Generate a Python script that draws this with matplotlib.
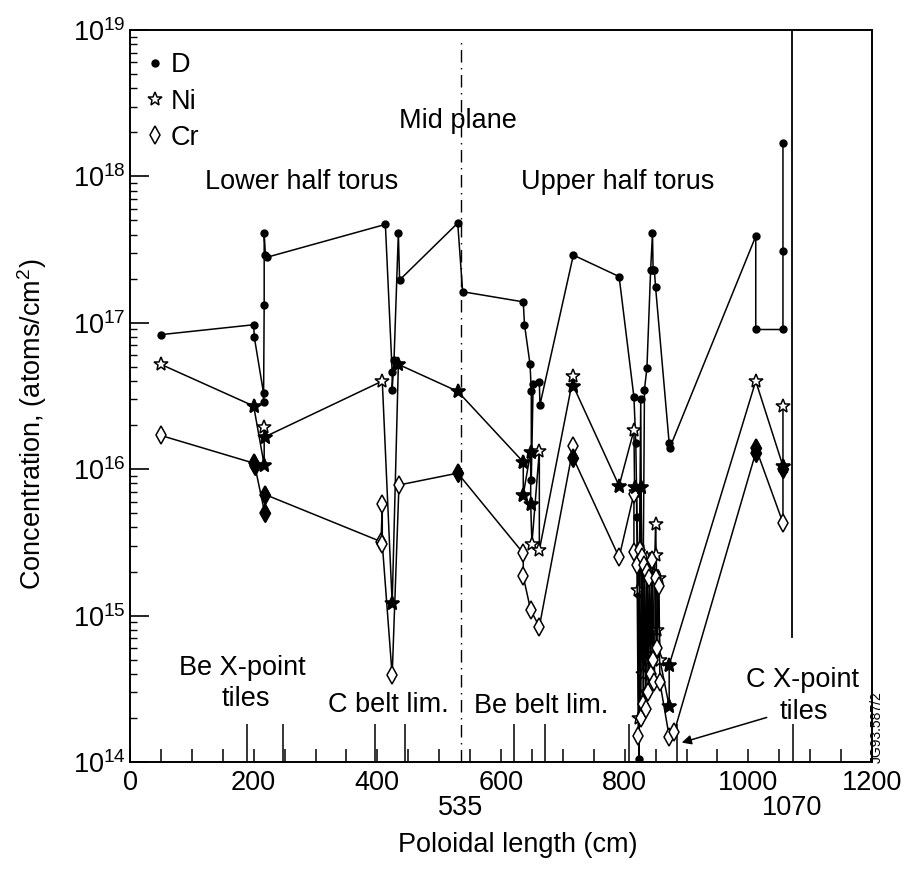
import math
import matplotlib
matplotlib.use('Agg')
import matplotlib.pyplot as plt
from matplotlib.lines import Line2D
from matplotlib.ticker import FixedLocator, LogLocator, NullFormatter, FuncFormatter

plt.rcParams['font.family'] = ['Liberation Sans', 'DejaVu Sans']
plt.rcParams['mathtext.default'] = 'regular'

# ---------------- data ----------------
d_x = [50, 200, 201, 216, 216, 217, 217, 219, 221,
       413, 424, 424, 427, 434, 436,
       530, 538,
       636, 638, 647, 649, 649, 652, 662, 663,
       717, 791,
       815, 818, 820, 822, 823, 824, 826, 828, 830, 832, 836,
       842, 845, 846, 848, 850,
       872, 873,
       1012, 1012, 1056, 1056, 1056]
d_y = [8.3e16, 9.7e16, 8.0e16, 3.3e16, 2.9e16, 1.33e17, 4.1e17, 2.9e17, 2.8e17,
       4.7e17, 4.6e16, 3.5e16, 5.6e16, 4.1e17, 1.96e17,
       4.8e17, 1.63e17,
       1.39e17, 9.7e16, 5.2e16, 3.4e16, 8.5e15, 3.8e16, 3.96e16, 2.75e16,
       2.9e17, 2.07e17,
       3.1e16, 1.5e16, 4.7e15, 1.4e15, 1.05e14, 3.0e15, 3.0e16, 6e14, 2.0e15, 3.5e16, 4.9e16,
       2.3e17, 4.1e17, 2.3e17, 2.3e17, 1.75e17,
       1.5e16, 1.4e16,
       3.9e17, 9.0e16, 9.0e16, 3.1e17, 1.7e18]

ni_x = [50, 200, 217, 217, 219,
        408, 424, 434, 530,
        636, 636, 648, 648, 650, 662, 662,
        717, 717, 791,
        815, 816, 819, 821, 823, 825, 826, 828, 830, 832, 834, 836,
        838, 840, 842, 844, 846, 848, 850, 851, 853, 855, 857,
        872, 872,
        1012, 1056, 1056]
ni_y = [5.2e16, 2.7e16, 1.07e16, 1.95e16, 1.67e16,
        4.0e16, 1.21e15, 5.2e16, 3.4e16,
        1.12e16, 6.7e15, 1.32e16, 5.8e15, 3.1e15, 1.34e16, 2.8e15,
        4.3e16, 3.7e16, 7.7e15,
        1.85e16, 7.6e15, 7.0e15, 1.5e15, 2.0e14, 2.5e15, 7.6e15, 2.4e15, 4e14, 2.2e15, 3.0e14, 2.46e15,
        5e14, 2.0e15, 6e14, 2.0e15, 5e14, 1.8e15, 4.2e15, 2.6e15, 8e14, 1.8e15, 5e14,
        2.4e14, 4.6e14,
        4.0e16, 1.05e16, 2.7e16]
ni_solid = [1, 2, 4, 6, 7, 8, 9, 10, 11, 12, 17, 18, 20, 25, 42, 43, 45]

cr_x = [50, 200, 202, 218, 219,
        406, 408, 408, 424, 435, 530,
        636, 636, 648, 662,
        717, 717, 791,
        815, 815, 820, 822, 824, 826, 828, 830, 832, 834, 836, 838, 840, 842, 845, 846,
        848, 850, 852, 855, 857, 872, 880,
        1012, 1012, 1056, 1056]
cr_y = [1.7e16, 1.1e16, 1.05e16, 5.0e15, 6.7e15,
        3.2e15, 5.8e15, 3.1e15, 3.9e14, 7.8e15, 9.4e15,
        2.67e15, 1.85e15, 1.09e15, 8.4e14,
        1.43e16, 1.19e16, 2.5e15,
        6.8e15, 2.7e15, 2.2e15, 1.5e14, 2.8e15, 2.0e14, 2.5e15, 2.5e14, 2.2e15, 2.3e14, 2.0e15, 3e14, 1.8e15, 4e14, 2.4e15, 5e14,
        3.5e14, 1.8e15, 6e14, 1.6e15, 3.5e14, 1.49e14, 1.6e14,
        1.3e16, 1.4e16, 4.3e15, 1.0e16]
cr_solid = [1, 2, 3, 4, 10, 16, 41, 42, 44]

region_bounds = [190, 247, 396, 445, 621, 671, 807, 884, 1073]
x_major = [0, 200, 400, 600, 800, 1000, 1200]
extra_x_labels = [535, 1070]

# ---------------- figure ----------------
W, H = 908, 872
fig = plt.figure(figsize=(W / 100, H / 100), dpi=100)
ax = fig.add_axes([130 / W, (H - 762) / H, 742 / W, 732 / H])
ax.set_yscale('log')
ax.set_xlim(0, 1200)
ax.set_ylim(1e14, 1e19)

lw = 1.1
ax.plot(d_x, d_y, color='k', lw=lw, marker='o', ms=5, mfc='k', mec='k', zorder=3)
ax.plot(ni_x, ni_y, color='k', lw=lw, marker='*', ms=10, mfc='white', mec='k', mew=1.1, zorder=3)
ax.plot([ni_x[i] for i in ni_solid], [ni_y[i] for i in ni_solid], ls='none',
        marker='*', ms=10, mfc='k', mec='k', zorder=4)
ax.plot(cr_x, cr_y, color='k', lw=lw, marker='d', ms=9, mfc='white', mec='k', mew=1.1, zorder=3)
ax.plot([cr_x[i] for i in cr_solid], [cr_y[i] for i in cr_solid], ls='none',
        marker='d', ms=9, mfc='k', mec='k', zorder=4)

# mid plane and 1070 lines
ax.axvline(535, ymin=0, ymax=(762 - 42) / 732, color='k', lw=1.0, ls=(0, (9, 4, 1, 4)))
ax.axvline(1070, ymin=(762 - 637) / 732, ymax=1, color='k', lw=1.3)

# ticks
for s in ax.spines.values():
    s.set_linewidth(1.4)
ax.xaxis.set_major_locator(FixedLocator(x_major))
ax.xaxis.set_minor_locator(FixedLocator([v for v in range(50, 1200, 50) if v % 200]))
ax.tick_params(axis='x', which='both', direction='in', length=9.5, width=1.1,
               top=False, pad=6, labelsize=19.5)
ax.yaxis.set_major_locator(LogLocator(base=10, numticks=10))
ax.yaxis.set_minor_locator(LogLocator(base=10, subs=range(2, 10), numticks=20))
ax.yaxis.set_minor_formatter(NullFormatter())
ax.yaxis.set_major_formatter(FuncFormatter(lambda v, p: '$10^{%d}$' % round(math.log10(v))))
ax.tick_params(axis='y', which='major', direction='in', length=14, width=1.2, right=False,
               pad=3, labelsize=19.5)
ax.tick_params(axis='y', which='minor', direction='in', length=5, width=1.0, right=False)

xtr = ax.get_xaxis_transform()
ax.vlines(region_bounds, 0, 38 / 732, transform=xtr, color='k', lw=1.1)
for v in extra_x_labels:
    ax.text(v, -46 / 732, str(v), transform=xtr, ha='center', va='center', fontsize=19.5)

# annotations
fs = 19.5
ax.text(530.5, 2.39e18, 'Mid plane', ha='center', va='center', fontsize=fs)
ax.text(278, 9.2e17, 'Lower half torus', ha='center', va='center', fontsize=fs)
ax.text(788, 9.2e17, 'Upper half torus', ha='center', va='center', fontsize=fs)
ax.text(181, 4.37e14, 'Be X-point', ha='center', va='center', fontsize=fs)
ax.text(188, 2.68e14, 'tiles', ha='center', va='center', fontsize=fs)
ax.text(418, 2.45e14, 'C belt lim.', ha='center', va='center', fontsize=fs)
ax.text(665, 2.4e14, 'Be belt lim.', ha='center', va='center', fontsize=fs)
ax.text(1088, 3.63e14, 'C X-point', ha='center', va='center', fontsize=fs)
ax.text(1090, 2.21e14, 'tiles', ha='center', va='center', fontsize=fs)
ax.annotate('', xy=(888, 1.34e14), xytext=(1034, 2.04e14),
            arrowprops=dict(arrowstyle='-|>', color='k', lw=1.1, mutation_scale=14))

handles = [Line2D([], [], ls='none', marker='o', ms=5, mfc='k', mec='k'),
           Line2D([], [], ls='none', marker='*', ms=10, mfc='white', mec='k', mew=1.1),
           Line2D([], [], ls='none', marker='d', ms=9, mfc='white', mec='k', mew=1.1)]
ax.legend(handles, ['D', 'Ni', 'Cr'], loc='upper left', bbox_to_anchor=(0.015, 0.977),
          frameon=False, fontsize=fs, handlelength=0.6, handletextpad=0.3,
          labelspacing=0.38, borderpad=0.2, borderaxespad=0)

fig.text(877 / W, 1 - 727 / H, 'JG93.587/2', rotation=90, ha='center', va='center', fontsize=10)
fig.text(518 / W, 1 - 845 / H, 'Poloidal length (cm)', ha='center', va='center', fontsize=fs)
fig.text(32 / W, 1 - 424 / H, 'Concentration, (atoms/cm$^2$)', rotation=90,
         ha='center', va='center', fontsize=fs)

fig.savefig('out.png', dpi=100)
